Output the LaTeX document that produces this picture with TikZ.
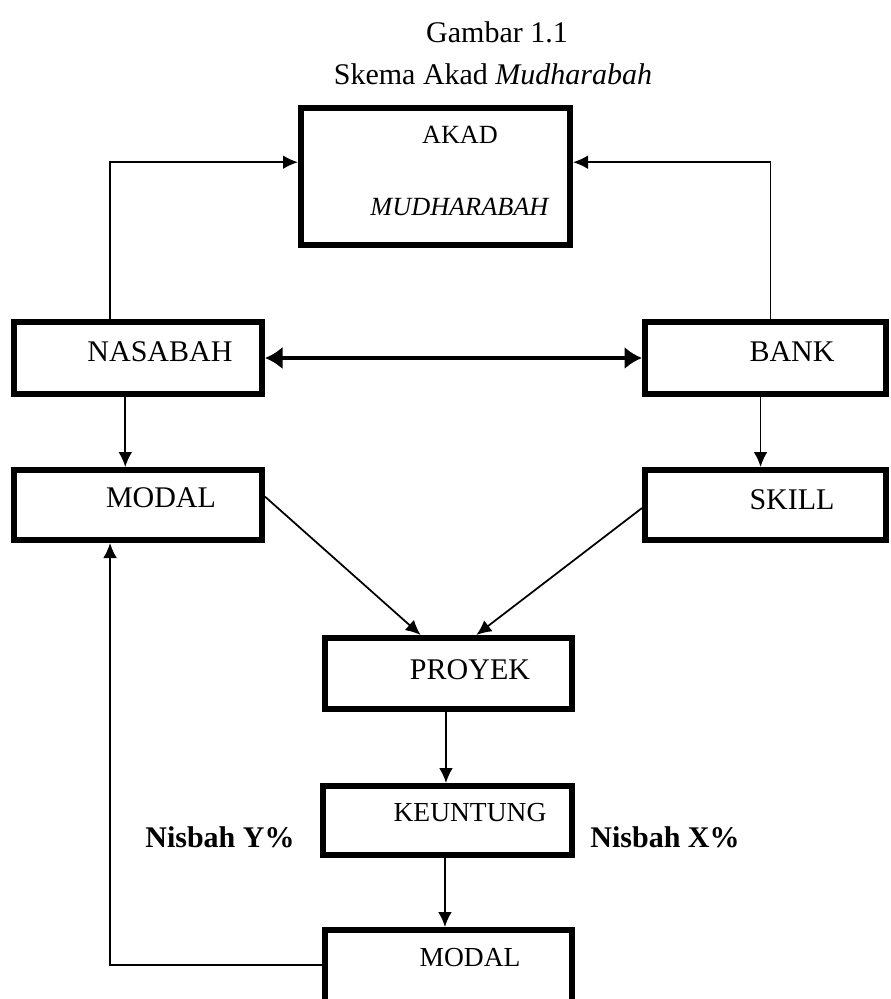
\documentclass[tikz,border=0pt]{standalone}
\usepackage{fontspec}
\setmainfont{Liberation Serif}
\usetikzlibrary{calc,arrows.meta}

\tikzset{
  kotak/.style={draw, line width=2.4pt, inner sep=0pt},
  teks/.style={inner sep=0pt, font=\fontsize{12}{14}\selectfont},
  teksk/.style={inner sep=0pt, font=\fontsize{11}{13}\selectfont},
  panah/.style={line width=0.7pt, -{Latex[length=6pt,width=5.5pt]}},
  panahtebal/.style={line width=1.6pt, {Latex[length=7pt,width=9pt]}-{Latex[length=7pt,width=9pt]}}
}

\begin{document}
\begin{tikzpicture}[x=0.4pt,y=-0.4pt]
\useasboundingbox (0,0) rectangle (891,999);
\node[teks] (judul) at (497,32) {Gambar 1.1};
\node[teks] (subjudul) at (493,74) {Skema Akad \textit{Mudharabah}};

\node[kotak, minimum width=107.6pt, minimum height=54.8pt] (akad) at (435.5,176.5) {};
\node[kotak, minimum width=99.2pt, minimum height=28.8pt] (nasabah) at (138,358) {};
\node[kotak, minimum width=96.4pt, minimum height=28.8pt] (bank) at (765.5,358) {};
\node[kotak, minimum width=99.2pt, minimum height=28pt] (modal) at (138,505) {};
\node[kotak, minimum width=96.4pt, minimum height=28pt] (skill) at (765.5,505) {};
\node[kotak, minimum width=98.8pt, minimum height=28.4pt] (proyek) at (448.5,673.5) {};
\node[kotak, minimum width=99.6pt, minimum height=27.6pt] (untung) at (447.5,820.5) {};
\node[kotak, minimum width=98.8pt, minimum height=32pt] (modalb) at (448.5,970) {};

\node[teks, font=\fontsize{10.5}{12}\selectfont] (akadtxt) at (460,135) {AKAD};
\node[teks, font=\fontsize{10.5}{12}\selectfont] (mudtxt) at (460,207) {\textit{MUDHARABAH}};
\node[teks] (nasabahtxt) at (160,352) {NASABAH};
\node[teks] (banktxt) at (792,352) {BANK};
\node[teks] (modaltxt) at (161,498) {MODAL};
\node[teks] (skilltxt) at (792,500) {SKILL};
\node[teks] (proyektxt) at (470,670) {PROYEK};
\node[teksk] (untungtxt) at (470,813) {KEUNTUNG};
\node[teksk] (modalbtxt) at (470,958) {MODAL};
\node[teks, font=\fontsize{12}{14}\selectfont\bfseries] (nisy) at (220,837) {Nisbah Y\%};
\node[teks, font=\fontsize{12}{14}\selectfont\bfseries] (nisx) at (665,837) {Nisbah X\%};

\draw[panah] ($(nasabah.north west)!.39!(nasabah.north east)$) |- ($(akad.north west)!.4!(akad.south west)$);
\draw[panah] ($(bank.north west)!.52!(bank.north east)$) |- ($(akad.north east)!.4!(akad.south east)$);
\draw[panahtebal] (nasabah.east) -- (bank.west);
\draw[panah] ($(nasabah.south west)!.45!(nasabah.south east)$) coordinate (t1) -- (t1 |- modal.north);
\draw[panah] ($(bank.south west)!.48!(bank.south east)$) coordinate (t2) -- (t2 |- skill.north);
\draw[panah] ($(modal.north east)!.39!(modal.south east)$) -- ($(proyek.north west)!.39!(proyek.north east)$);
\draw[panah] ($(skill.north west)!.54!(skill.south west)$) -- ($(proyek.north west)!.61!(proyek.north east)$);
\draw[panah] ($(proyek.south west)!.49!(proyek.south east)$) coordinate (t3) -- (t3 |- untung.north);
\draw[panah] ($(untung.south west)!.49!(untung.south east)$) coordinate (t4) -- (t4 |- modalb.north);
\draw[panah] ($(modalb.north west)!.44!(modalb.south west)$) -| ($(modal.south west)!.39!(modal.south east)$);
\end{tikzpicture}
\end{document}
